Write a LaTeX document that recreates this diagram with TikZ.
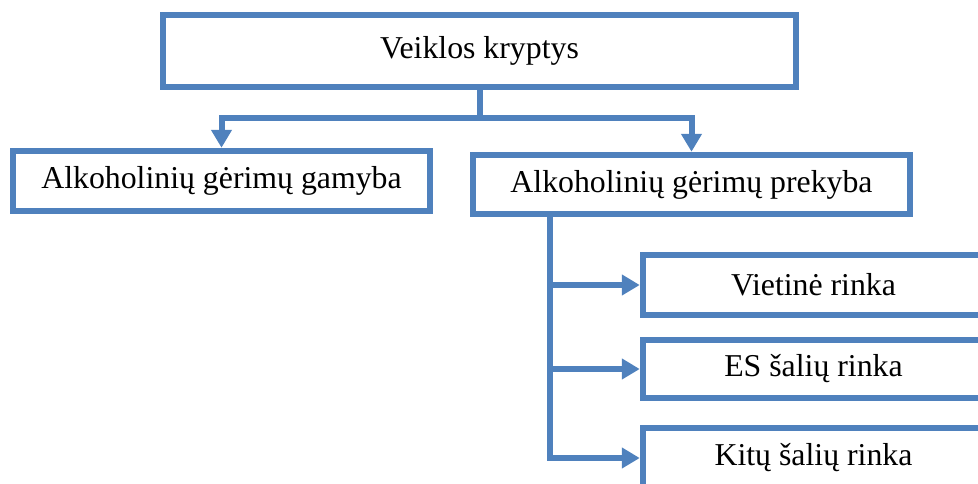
\documentclass[tikz,border=0pt]{standalone}
\usepackage{fontspec}
\setmainfont{Liberation Serif}
\usetikzlibrary{arrows.meta}
\definecolor{frameblue}{HTML}{4F81BD}
\tikzset{
  box/.style={draw=frameblue, line width=6.5pt, fill=white, inner sep=0pt,
    font=\fontsize{31.8}{38}\selectfont, text=black},
  link/.style={draw=frameblue, line width=6pt},
  arr/.style={link, -{Triangle[length=18pt, width=20pt]}}
}
\begin{document}
\begin{tikzpicture}[x=1pt, y=-1pt]
  \useasboundingbox (0,0) rectangle (978,483);
  \clip (0,0) rectangle (978,483);

  % main boxes
  \node[box, minimum width=633pt, minimum height=72pt] (top) at (479.5,51) {Veiklos kryptys};
  \node[box, minimum width=417pt, minimum height=60pt] (prod) at (221.5,181) {Alkoholinių gėrimų gamyba};
  \node[box, minimum width=437pt, minimum height=59pt] (trade) at (691.5,184.5) {Alkoholinių gėrimų prekyba};

  % market boxes, running past the right edge
  \node[box, minimum width=341pt, minimum height=60pt] (local) at (813.5,285) {Vietinė rinka};
  \node[box, minimum width=341pt, minimum height=58pt] (eu) at (813.5,369) {ES šalių rinka};
  \node[box, minimum width=341pt, minimum height=60pt] (other) at (813.5,458) {Kitų šalių rinka};

  % split from the top box
  \coordinate (bus) at (0,118);
  \draw[arr] (top.south) -- (top.south |- bus) -| (prod.north);
  \draw[arr] (top.south |- bus) -| (trade.north);

  % trunk from the trade box to the markets
  \coordinate (trunk) at (550,0);
  \draw[arr] (trunk |- trade.south) |- (other.west);
  \draw[arr] (trunk |- local.west) -- (local.west);
  \draw[arr] (trunk |- eu.west) -- (eu.west);
\end{tikzpicture}
\end{document}
